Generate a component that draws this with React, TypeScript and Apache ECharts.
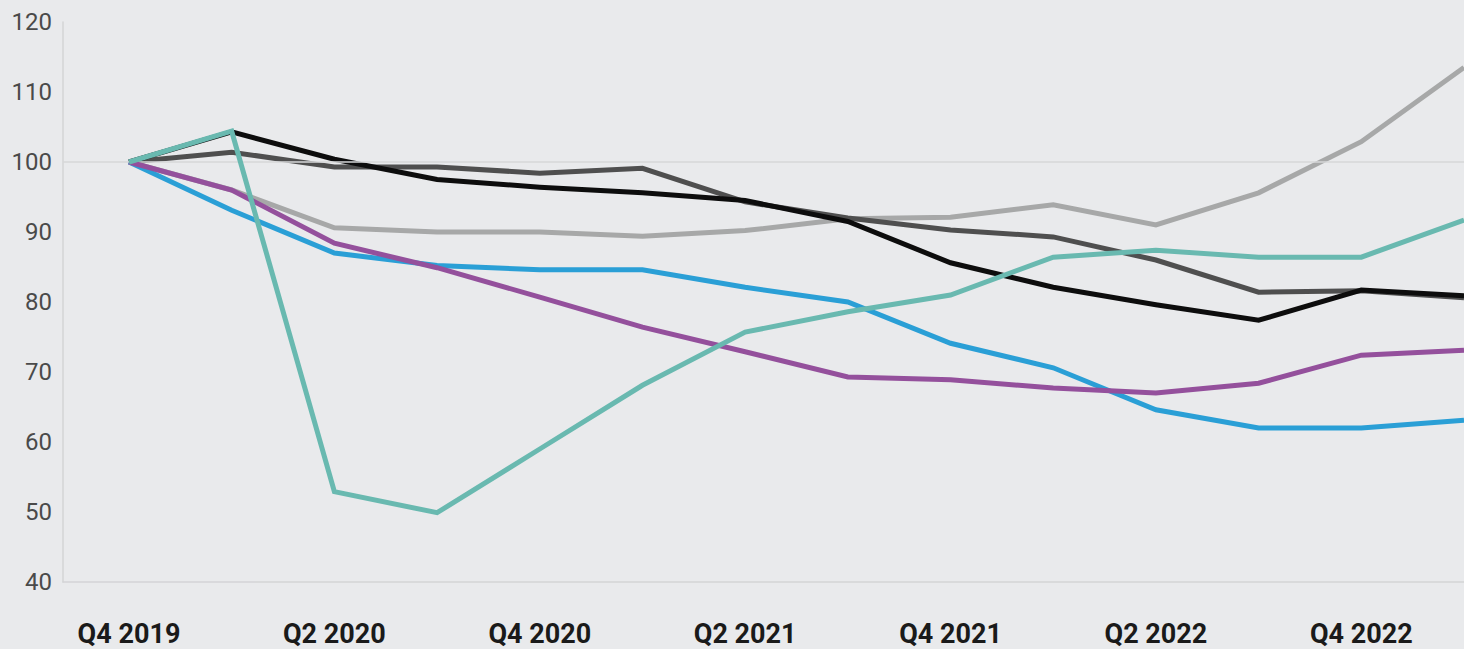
import React, { useEffect, useRef } from "react";
import * as echarts from "echarts";

const quarters = [
  "Q4 2019", "Q1 2020", "Q2 2020", "Q3 2020", "Q4 2020", "Q1 2021", "Q2 2021",
  "Q3 2021", "Q4 2021", "Q1 2022", "Q2 2022", "Q3 2022", "Q4 2022", "Q1 2023",
];

const blackSeries = [100, 104.3, 100.4, 97.5, 96.4, 95.6, 94.5, 91.5, 85.6, 82.1, 79.6, 77.4, 81.7, 80.9];
const darkGraySeries = [100, 101.4, 99.3, 99.3, 98.4, 99.1, 94.3, 92.0, 90.3, 89.3, 86.0, 81.4, 81.6, 80.6];
const lightGraySeries = [100, 96.0, 90.6, 90.0, 90.0, 89.4, 90.2, 91.9, 92.1, 93.9, 91.0, 95.6, 102.9, 113.5];
const blueSeries = [100, 93.1, 87.0, 85.2, 84.6, 84.6, 82.1, 80.0, 74.1, 70.6, 64.6, 62.0, 62.0, 63.1];
const purpleSeries = [100, 96.0, 88.4, 84.9, 80.7, 76.4, 72.9, 69.3, 68.9, 67.7, 67.0, 68.4, 72.4, 73.1];
const tealSeries = [100, 104.4, 52.9, 49.9, 59.0, 68.1, 75.7, 78.6, 81.0, 86.4, 87.4, 86.4, 86.4, 91.7];

const yMin = 40;
const yMax = 120;
const yStep = 10;
const referenceLevel = 100;

export default function App() {
  const ref = useRef<HTMLDivElement>(null);

  useEffect(() => {
    if (!ref.current) return;
    const chart = echarts.init(ref.current, null, { renderer: "svg" });
    const mk = (name: string, data: number[], color: string, z: number) => ({
      name,
      type: "line",
      xAxisIndex: 1,
      yAxisIndex: 1,
      data,
      symbol: "none",
      z,
      lineStyle: { color, width: 5, join: "miter" },
      clip: false,
    });
    chart.setOption({
      animation: false,
      backgroundColor: "#e9eaec",
      grid: [
        { left: 63, right: 0, top: 22, bottom: 67 },
        { left: 129, right: 0, top: 22, bottom: 67 },
      ],
      xAxis: [
        {
          type: "value",
          gridIndex: 0,
          min: 0,
          max: 1,
          axisLine: { show: true, onZero: false, lineStyle: { color: "#d3d4d6", width: 1.5 } },
          axisTick: { show: false },
          axisLabel: { show: false },
          splitLine: { show: false },
        },
        {
          type: "category",
          gridIndex: 1,
          data: quarters,
          boundaryGap: false,
          axisLine: { show: false },
          axisTick: { show: false },
          splitLine: { show: false },
          axisLabel: {
            interval: 1,
            margin: 38,
            fontSize: 27,
            fontWeight: "bold",
            fontFamily: "Roboto",
            color: "#1a1a1a",
          },
        },
      ],
      yAxis: [
        {
          type: "value",
          gridIndex: 0,
          min: yMin,
          max: yMax,
          interval: yStep,
          axisLine: { show: true, lineStyle: { color: "#d3d4d6", width: 1.5 } },
          axisTick: { show: false },
          splitLine: { show: false },
          axisLabel: {
            margin: 11,
            fontSize: 24,
            fontFamily: "Roboto",
            color: "#4a4a4a",
          },
        },
        {
          type: "value",
          gridIndex: 1,
          min: yMin,
          max: yMax,
          interval: yStep,
          show: false,
          splitLine: { show: false },
        },
      ],
      series: [
        {
          type: "line",
          xAxisIndex: 0,
          yAxisIndex: 0,
          data: [],
          silent: true,
          markLine: {
            silent: true,
            symbol: "none",
            label: { show: false },
            lineStyle: { color: "#d6d7d9", width: 1.5, type: "solid" },
            data: [{ yAxis: referenceLevel }],
          },
        },
        mk("Light gray", lightGraySeries, "#a7a8a8", 2),
        mk("Dark gray", darkGraySeries, "#4f4f4f", 3),
        mk("Black", blackSeries, "#0d0d0d", 4),
        mk("Blue", blueSeries, "#2a9fd6", 5),
        mk("Purple", purpleSeries, "#94509c", 6),
        mk("Teal", tealSeries, "#69b9b0", 7),
      ],
    });
    return () => chart.dispose();
  }, []);

  return (
    <div
      ref={ref}
      style={{ position: "fixed", left: 0, top: 0, width: 1464, height: 649 }}
    />
  );
}
